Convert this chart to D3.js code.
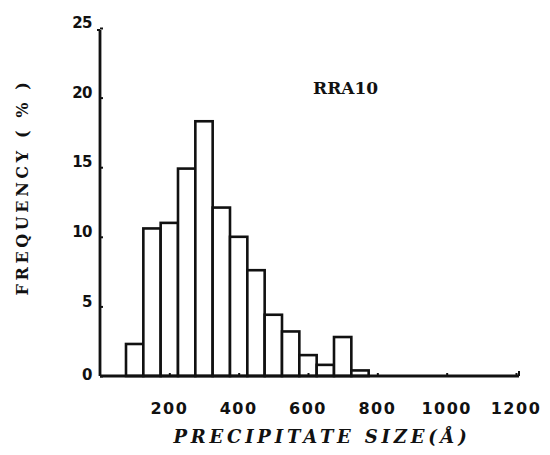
<!DOCTYPE html>
<html><head><meta charset="utf-8">
<script src="https://cdn.jsdelivr.net/npm/d3@7"></script>
<style>body{margin:0;background:#fff}</style>
</head><body>
<svg id="c" width="550" height="455"></svg>
<script>
const binStarts = [75,125,175,225,275,325,375,425,475,525,575,625,675,725];
const binWidth = 50;
const frequency = [2.3,10.6,11.0,14.9,18.3,12.1,10.0,7.6,4.4,3.2,1.5,0.8,2.8,0.4];
const xTicks = [200,400,600,800,1000,1200];
const yTicks = [0,5,10,15,20,25];

const svg = d3.select("#c");
const x = d3.scaleLinear().domain([0,1200]).range([100,516]);
const y = d3.scaleLinear().domain([0,25]).range([376,28]);
const ink = "#111";

// bars
svg.append("g").selectAll("rect").data(frequency).join("rect")
  .attr("x", (d,i)=>x(binStarts[i]))
  .attr("width", (d,i)=>x(binStarts[i]+binWidth)-x(binStarts[i]))
  .attr("y", d=>y(d))
  .attr("height", d=>y(0)-y(d))
  .attr("fill","#fff").attr("stroke",ink).attr("stroke-width",2.6);

// y axis
const yAxis = svg.append("g").attr("transform",`translate(${x(0)},0)`)
  .call(d3.axisRight(y).tickValues(yTicks).tickSize(3).tickFormat(""));
yAxis.select(".domain").remove();
yAxis.selectAll("line").attr("stroke",ink).attr("stroke-width",2);
svg.append("line").attr("x1",x(0)).attr("x2",x(0)).attr("y1",y(0)).attr("y2",y(25)+2)
  .attr("stroke",ink).attr("stroke-width",2.8);
svg.append("line").attr("x1",x(0)-3).attr("x2",x(0)).attr("y1",y(25)+2).attr("y2",y(25)+2)
  .attr("stroke",ink).attr("stroke-width",2);
svg.append("g").selectAll("text").data(yTicks).join("text")
  .attr("x",x(0)-8).attr("y",d=>y(d)-(d===0?1:5)).attr("dy","0.35em")
  .attr("text-anchor","end")
  .attr("font-family","DejaVu Sans, sans-serif").attr("font-weight","bold")
  .attr("font-size",15).attr("letter-spacing",-0.5).attr("fill",ink).text(d=>d);

// x axis
const xAxis = svg.append("g").attr("transform",`translate(0,${y(0)})`)
  .call(d3.axisTop(x).tickValues(xTicks).tickSize(3).tickFormat(""));
xAxis.select(".domain").remove();
xAxis.selectAll("line").attr("stroke",ink).attr("stroke-width",2);
svg.append("line").attr("x1",x(0)).attr("x2",x(1200)+3).attr("y1",y(0)).attr("y2",y(0))
  .attr("stroke",ink).attr("stroke-width",2.8);
svg.append("line").attr("x1",x(1200)+3).attr("x2",x(1200)+3).attr("y1",y(0)).attr("y2",y(0)-5)
  .attr("stroke",ink).attr("stroke-width",2);
svg.append("g").selectAll("text").data(xTicks).join("text")
  .attr("x",d=>x(d)).attr("y",408).attr("dy","0.35em")
  .attr("text-anchor","middle")
  .attr("font-family","DejaVu Sans, sans-serif").attr("font-weight","bold")
  .attr("font-size",16).attr("letter-spacing",1.5).attr("fill",ink).text(d=>d);

// titles
svg.append("text").attr("x",322).attr("y",437).attr("dy","0.35em").attr("text-anchor","middle")
  .attr("font-family","DejaVu Serif, serif").attr("font-weight","bold").attr("font-style","italic")
  .attr("font-size",18).attr("letter-spacing",3.8).attr("fill",ink).text("PRECIPITATE  SIZE(Å)");
svg.append("text").attr("transform","translate(22,187) rotate(-90)").attr("dy","0.35em").attr("text-anchor","middle")
  .attr("font-family","DejaVu Serif, serif").attr("font-weight","bold")
  .attr("font-size",16).attr("letter-spacing",3.6).attr("fill",ink).text("FREQUENCY ( % )");
svg.append("text").attr("x",313).attr("y",88).attr("dy","0.35em")
  .attr("font-family","DejaVu Serif, serif").attr("font-weight","bold")
  .attr("font-size",17).attr("fill",ink).text("RRA10");
</script>
</body></html>
